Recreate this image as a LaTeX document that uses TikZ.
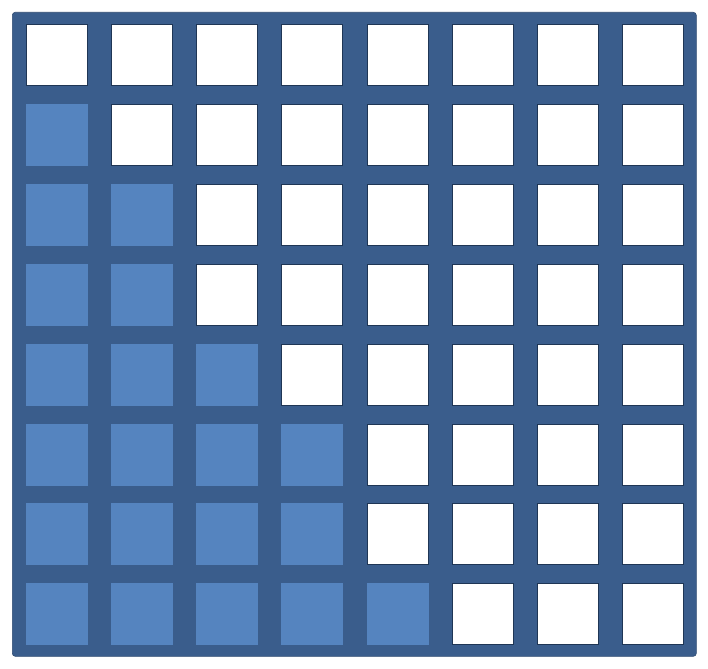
\documentclass[tikz,border=0pt]{standalone}
\usepackage{tikz}
\definecolor{gridblue}{HTML}{3A5D8C}
\definecolor{fillblue}{HTML}{5584BF}
\definecolor{edgeblue}{HTML}{1F3655}
\tikzset{
  frame/.style={fill=gridblue, draw=gridblue!80!black, line width=0.6pt, rounded corners=3pt},
  emptycell/.style={fill=white, draw=edgeblue, line width=0.8pt, minimum width=61pt, minimum height=61pt, inner sep=0pt, anchor=north west},
  fullcell/.style={fill=fillblue, draw=fillblue, line width=0.5pt, minimum width=61pt, minimum height=61pt, inner sep=0pt, anchor=north west}
}
\begin{document}
\begin{tikzpicture}[x=1pt,y=-1pt]
\useasboundingbox (0,0) rectangle (708,668);
\node[frame, draw, minimum width=684pt, minimum height=644pt, anchor=north west, inner sep=0pt] (frame) at (12,12) {};
\foreach \r/\n in {0/0,1/1,2/2,3/2,4/3,5/4,6/4,7/5}{
  \foreach \c in {0,...,7}{
    \pgfmathsetmacro{\xx}{26+85.15*\c}
    \pgfmathsetmacro{\yy}{24+79.9*\r}
    \ifnum\c<\n
      \node[fullcell] (cell-\r-\c) at (\xx,\yy) {};
    \else
      \node[emptycell] (cell-\r-\c) at (\xx,\yy) {};
    \fi
  }
}
\end{tikzpicture}
\end{document}
